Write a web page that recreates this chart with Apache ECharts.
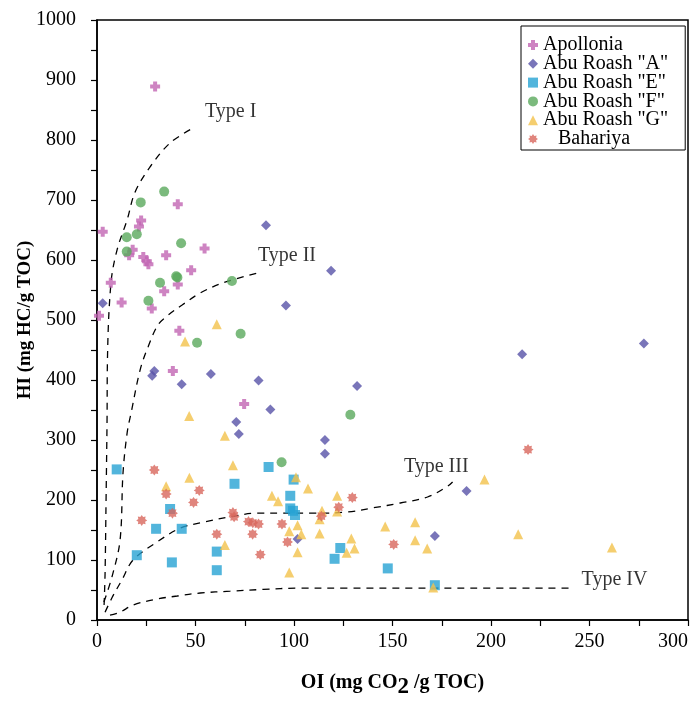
<!DOCTYPE html>
<html>
<head>
<meta charset="utf-8">
<script src="https://cdn.jsdelivr.net/npm/echarts@6/dist/echarts.min.js"></script>
<style>
html,body{margin:0;padding:0;background:#fff;}
#chart{width:694px;height:702px;}
</style>
</head>
<body>
<div id="chart"></div>
<script>
// ---- data (OI, HI) ----
var apollonia = [[29.5,889],[41,693],[2.9,647],[22.4,666],[21.3,656],[18.1,617],[16.3,608],[23.5,605],[25.3,598],[26.1,593],[35.1,608],[54.6,619],[47.8,583],[41,559],[34.1,548],[7,562],[12.5,529],[27.8,519],[1,507],[41.8,482],[38.5,415],[74.7,360]];
var abuA = [[85.8,658],[2.9,528],[95.9,524],[29.1,415],[28,407],[57.8,410],[43,393],[82,399],[88,351],[70.7,330],[72,310],[118.8,582],[132,390],[115.7,300],[115.7,277],[101.8,135],[187.6,215],[171.5,140],[215.8,443],[277.6,461]];
var abuE = [[10,251],[20.2,108],[30,152],[37.1,185],[38,96],[43,152],[69.8,227],[60.8,114],[60.8,83],[87.1,255],[99.8,234],[98.1,207],[98.1,186],[99.5,182],[100.5,175],[123.5,120],[120.6,102],[147.6,86],[171.5,58]];
var abuF = [[34.1,714],[22.2,696],[15.1,638],[20.2,643],[15.1,614],[42.7,628],[40.2,573],[40.8,571],[32,562],[68.5,565],[26.1,532],[72.9,477],[50.8,462],[93.7,263],[128.6,342]];
var abuG = [[60.8,493],[44.7,464],[46.8,340],[64.9,307],[69,258],[46.9,237],[35.1,223],[64.9,125],[88.8,207],[91.9,198],[97.6,148],[97.6,79],[101,238],[107.1,219],[121.9,207],[114.2,182],[113,168],[121.9,181],[101.8,158],[103.7,143],[113,144],[129.1,136],[130.7,119],[126.7,112],[101.8,113],[146.3,156],[161.5,163],[161.5,133],[167.6,119],[170.7,54],[196.7,234],[213.8,143],[261.4,121]];
var bahariya = [[29.1,250],[51.9,216],[35.1,210],[49,196],[22.7,166],[38.3,178],[69,179],[69.6,172],[60.8,143],[76.9,164],[79.1,162],[82,160],[79,143],[93.9,160],[82.9,109],[96.7,130],[113.9,173],[122.7,188],[129.6,204],[150.6,126],[218.8,284]];

// ---- kerogen type curves ----
var typeI = [[3.6,25],[4.1,78],[4.6,200],[5.1,333],[5.3,433],[7.1,562],[10.2,617],[15.3,667],[19.3,713],[26.9,755],[37.1,795],[48.8,820]];
var typeII = [[3.5,30],[7.6,72],[11.7,133],[13.2,245],[15.3,312],[17.3,345],[21.9,417],[25.9,455],[31,492],[36.1,508],[43.2,525],[52.4,545],[64,562],[81.3,578]];
var typeIII = [[4.1,13],[7.6,37],[12.7,67],[18.3,100],[30.5,130],[42.2,153],[53.9,163],[67.6,172],[81.3,178],[94.6,178],[109.8,178],[127.1,180],[140.3,187],[154,195],[167.8,205],[178,223],[180.5,230]];
var typeIV = [[6.6,8],[11.7,13],[18.3,25],[30.5,35],[40.7,40],[52.4,45],[67.6,48],[84.4,51],[101.7,53],[127.1,53],[160.7,53],[191.2,53],[240,53]];
var typeLabels = [[54.8,847,'Type I'],[81.7,607,'Type II'],[155.8,255,'Type III'],[246,67,'Type IV']];

var xTicks = {min:0, max:300, interval:25, labelEvery:50};
var yTicks = {min:0, max:1000, interval:50, labelEvery:100};

var FONT = 'Liberation Serif';
var crossPath = 'path://M3,0h4v3h3v4h-3v3h-4v-3h-3v-4h3z';
var starPath = 'path://M0,-5L1.3,-3.1L3.54,-3.54L3.1,-1.3L5,0L3.1,1.3L3.54,3.54L1.3,3.1L0,5L-1.3,3.1L-3.54,3.54L-3.1,1.3L-5,0L-3.1,-1.3L-3.54,-3.54L-1.3,-3.1Z';

function scatter(name, data, symbol, size, color){
  return {name:name, type:'scatter', data:data, symbol:symbol, symbolSize:size,
    itemStyle:{color:color}, z:3};
}
function curve(data){
  return {type:'line', data:data, smooth:0.35, showSymbol:false, symbol:'none', silent:true,
    lineStyle:{color:'#000', width:1.3, type:[7,6]}, z:2};
}

var chart = echarts.init(document.getElementById('chart'), null, {renderer:'canvas'});
chart.setOption({
  animation:false,
  backgroundColor:'#fff',
  textStyle:{fontFamily:FONT},
  grid:{left:97, right:6, top:20, bottom:82, outerBoundsMode:'none', containLabel:false,
    show:true, borderColor:'#000', borderWidth:1.5},
  legend:{
    orient:'vertical', left:521, top:26,
    data:['Apollonia','Abu Roash "A"','Abu Roash "E"','Abu Roash "F"','Abu Roash "G"','Bahariya'],
    backgroundColor:'#fff', borderColor:'#000', borderWidth:1, borderRadius:0,
    padding:[9,17,1,7], itemGap:-1.2, itemWidth:10, itemHeight:10,
    textStyle:{fontFamily:FONT, fontSize:20, color:'#000', lineHeight:18.8},
    formatter:function(n){ return n==='Bahariya' ? '   Bahariya' : n; }
  },
  xAxis:{
    type:'value', min:xTicks.min, max:xTicks.max, interval:xTicks.interval,
    name:'{a|OI (mg CO}{b|2}{a| /g TOC)}', nameLocation:'middle', nameGap:46, nameMoveOverlap:false,
    nameTextStyle:{rich:{a:{fontFamily:FONT, fontSize:20, fontWeight:'bold', color:'#000'},
      b:{fontFamily:FONT, fontSize:23, fontWeight:'bold', color:'#000', padding:[10,0,0,0]}}},
    axisLine:{lineStyle:{color:'#000', width:1.5}},
    axisTick:{inside:false, length:6, lineStyle:{color:'#000', width:1.2}},
    axisLabel:{margin:12, fontFamily:FONT, fontSize:20, color:'#000', alignMaxLabel:'right',
      formatter:function(v){ return v % xTicks.labelEvery === 0 ? String(v) : ''; }},
    splitLine:{show:false}
  },
  yAxis:{
    type:'value', min:yTicks.min, max:yTicks.max, interval:yTicks.interval,
    name:'HI (mg HC/g TOC)', nameLocation:'middle', nameGap:62, nameMoveOverlap:false,
    nameTextStyle:{fontFamily:FONT, fontSize:19, fontWeight:'bold', color:'#000'},
    axisLine:{lineStyle:{color:'#000', width:1.5}},
    axisTick:{inside:false, length:6, lineStyle:{color:'#000', width:1.2}},
    axisLabel:{margin:21, fontFamily:FONT, fontSize:20, color:'#000',
      formatter:function(v){ return v % yTicks.labelEvery === 0 ? String(v) : ''; }},
    splitLine:{show:false}
  },
  series:[
    curve(typeI), curve(typeII), curve(typeIII), curve(typeIV),
    {type:'scatter', data:typeLabels, symbolSize:0, silent:true, z:4,
      label:{show:true, position:'right', distance:0, formatter:function(p){return p.data[2];},
        fontFamily:FONT, fontSize:20, color:'#000'}},
    scatter('Apollonia', apollonia, crossPath, 10, '#c265b3'),
    scatter('Abu Roash "A"', abuA, 'diamond', 10, '#5752a8'),
    scatter('Abu Roash "E"', abuE, 'rect', 10, '#27a3d3'),
    scatter('Abu Roash "F"', abuF, 'circle', 10, '#5aa95d'),
    scatter('Abu Roash "G"', abuG, 'triangle', 10, '#f3c24b'),
    scatter('Bahariya', bahariya, starPath, 11, '#d8675c')
  ]
});
</script>
</body>
</html>
